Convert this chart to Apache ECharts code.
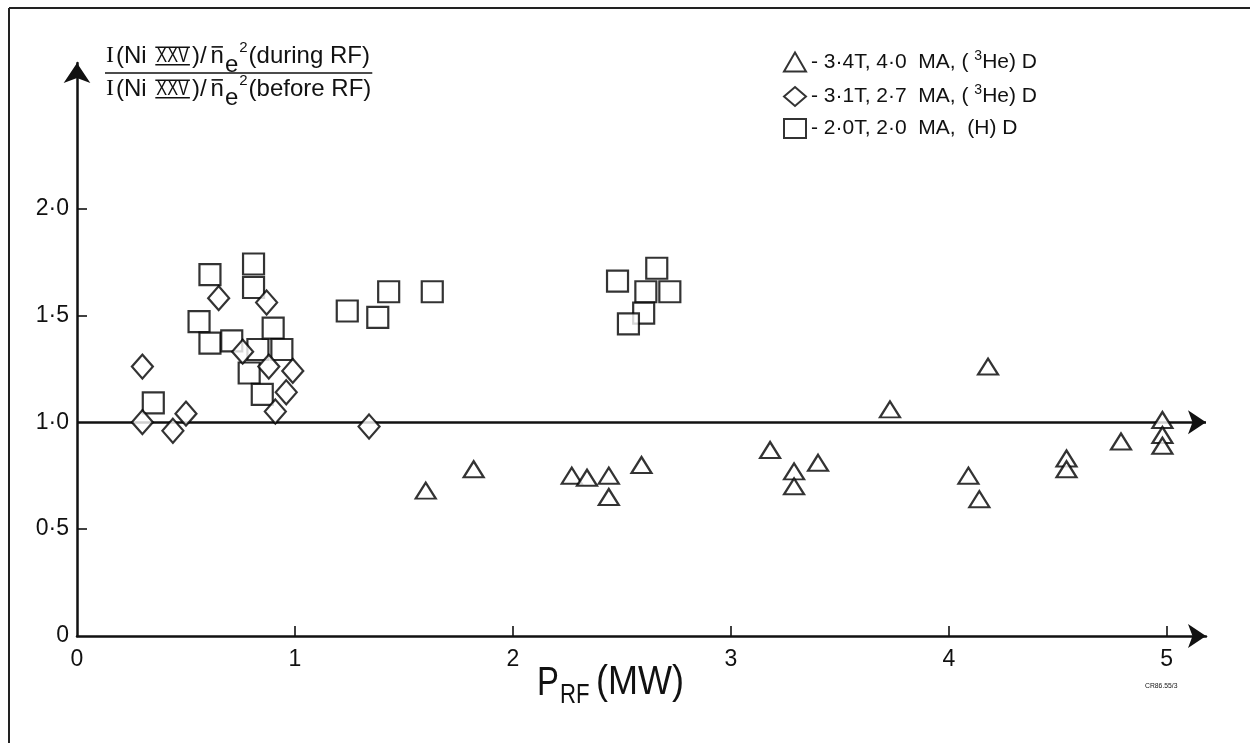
<!DOCTYPE html>
<html>
<head>
<meta charset="utf-8">
<script src="https://cdn.jsdelivr.net/npm/echarts@6/dist/echarts.min.js"></script>
<style>html,body{margin:0;padding:0;background:#fff}#c{width:1250px;height:743px}</style>
</head>
<body>
<div id="c"></div>
<script>
// ---- data ----
const triX = [1.60,1.82,2.27,2.34,2.44,2.44,2.59,3.18,3.29,3.29,3.40,3.73,4.18,4.09,4.14,4.54,4.54,4.79,4.98,4.98,4.98];
const triY = [0.68,0.78,0.75,0.74,0.75,0.65,0.80,0.87,0.77,0.70,0.81,1.06,1.26,0.75,0.64,0.83,0.78,0.91,1.01,0.94,0.89];
const diaX = [0.65,0.87,0.30,0.76,0.88,0.99,0.96,0.91,0.50,0.30,0.44,1.34];
const diaY = [1.58,1.56,1.26,1.33,1.26,1.24,1.14,1.05,1.04,1.00,0.96,0.98];
const sqX  = [0.61,0.81,0.81,0.56,0.61,0.71,0.83,0.90,0.94,0.79,0.85,0.35,1.24,1.38,1.43,1.63,2.48,2.66,2.61,2.72,2.60,2.53];
const sqY  = [1.69,1.74,1.63,1.47,1.37,1.38,1.34,1.44,1.34,1.23,1.13,1.09,1.52,1.49,1.61,1.61,1.66,1.72,1.61,1.61,1.51,1.46];
const seriesNames = ['- 3·4T, 4·0  MA, ( {sup|3}He) D', '- 3·1T, 2·7  MA, ( {sup|3}He) D', '- 2·0T, 2·0  MA,  (H) D'];
const xTickValues = [1,2,3,4,5];
const xLabelValues = [0,1,2,3,4,5];
const yTickValues = [0.5,1.5,2.0];
const yLabelValues = [0,0.5,1.0,1.5,2.0];
const refLevel = 1.0;
const xMax = 5.18, yMax = 2.68;

const zip = (a,b) => a.map((v,i)=>[v,b[i]]);
const fmt = v => v === 0 ? '0' : v.toFixed(1).replace('.', '·');
const ink = '#111';
const SANS = 'Liberation Sans';

// ---- y-axis title (fraction) laid out piece by piece ----
const ctx = document.createElement('canvas').getContext('2d');
function layoutLine(pieces, x0, cy) {
  const els = [];
  let x = x0;
  pieces.forEach(p => {
    const fam = p.fam || SANS;
    const sx = p.sx || 1;
    ctx.font = p.size + 'px "' + fam + '"';
    const w = ctx.measureText(p.t).width * sx;
    const y = cy + (p.dy || 0);
    els.push({type:'text', x:x, y:y, scaleX:sx, silent:true,
      style:{text:p.t, fontSize:p.size, fontFamily:fam, fill:ink, align:'left', verticalAlign:'middle'}});
    if (p.bars) {
      const h = p.size * 0.40;
      [y - h, y + h].forEach(yy => els.push({type:'line', silent:true,
        shape:{x1:x - 1, y1:yy, x2:x + w + 1, y2:yy}, style:{stroke:ink, lineWidth:1.6}}));
    }
    if (p.macron) {
      els.push({type:'line', silent:true,
        shape:{x1:x + 1, y1:y - p.size*0.38, x2:x + w - 1, y2:y - p.size*0.38}, style:{stroke:ink, lineWidth:1.6}});
    }
    x += w + (p.gap || 0);
  });
  return {els, end:x};
}
function fractionLine(tail, cy) {
  return layoutLine([
    {t:'I', size:24, fam:'Liberation Serif', gap:2},
    {t:'(Ni ', size:24, gap:3},
    {t:'XXV', size:22, sx:0.74, bars:true, gap:3},
    {t:')/', size:24, gap:4},
    {t:'n', size:24, macron:true, gap:1},
    {t:'e', size:24, dy:9, gap:1},
    {t:'2', size:15, dy:-8, gap:1},
    {t:tail, size:24}
  ], 106, cy);
}
const num = fractionLine('(during RF)', 56);
const den = fractionLine('(before RF)', 89);
const titleEls = num.els.concat(den.els);
titleEls.push({type:'line', silent:true,
  shape:{x1:105, y1:73, x2:Math.max(num.end, den.end) + 1, y2:73}, style:{stroke:ink, lineWidth:1.6}});

const chart = echarts.init(document.getElementById('c'), null, {renderer:'canvas'});
const symStyle = {color:'#fff', borderColor:'#000', borderWidth:2.2};
function gtext(t, x, y, size, sx, extra) {
  return Object.assign({type:'text', silent:true, x:x, y:y, scaleX:sx,
    style:{text:t, fontSize:size, fontFamily:SANS, fill:ink, align:'left', verticalAlign:'middle'}}, extra || {});
}
chart.setOption({
  backgroundColor:'#fff',
  animation:false,
  grid:{left:77, right:44, top:63, bottom:107, containLabel:false},
  legend:{
    orient:'vertical', left:778, top:44, itemWidth:22, itemHeight:19, itemGap:11,
    textStyle:{fontSize:21, fontFamily:SANS, color:ink,
      rich:{sup:{fontSize:14, fontFamily:SANS, color:ink, padding:[0,0,12,0]}}},
    data:[{name:seriesNames[0], icon:'triangle'},{name:seriesNames[1], icon:'diamond'},{name:seriesNames[2], icon:'rect'}]
  },
  xAxis:{
    type:'value', min:0, max:xMax,
    axisLine:{show:true, symbol:['none','arrow'], symbolSize:[18,18], lineStyle:{color:ink, width:2.5}},
    axisTick:{show:true, inside:true, length:10, customValues:xTickValues, lineStyle:{color:ink, width:1.6}},
    axisLabel:{customValues:xLabelValues, formatter:v=>String(v), fontSize:23, fontFamily:SANS, color:ink, margin:12},
    splitLine:{show:false}
  },
  yAxis:{
    type:'value', min:0, max:yMax,
    axisLine:{show:true, symbol:['none','arrow'], symbolSize:[20,20], lineStyle:{color:ink, width:2.5}},
    axisTick:{show:true, inside:true, length:10, customValues:yTickValues, lineStyle:{color:ink, width:1.6}},
    axisLabel:{customValues:yLabelValues, formatter:fmt, fontSize:23, fontFamily:SANS, color:ink, margin:8},
    splitLine:{show:false}
  },
  series:[
    {name:seriesNames[0], type:'scatter', symbol:'triangle', symbolSize:[20,16], itemStyle:symStyle, data:zip(triX,triY), z:3,
      markLine:{silent:true, symbol:['none','arrow'], symbolSize:[18,18], label:{show:false},
        lineStyle:{color:ink, width:2.5, type:'solid'}, emphasis:{disabled:true},
        data:[[{coord:[0,refLevel]},{coord:[xMax,refLevel]}]], z:2}},
    {name:seriesNames[1], type:'scatter', symbol:'diamond', symbolSize:[21,24], itemStyle:symStyle, data:zip(diaX,diaY), z:4},
    {name:seriesNames[2], type:'scatter', symbol:'rect', symbolSize:[21,21], itemStyle:symStyle, data:zip(sqX,sqY), z:3}
  ],
  graphic:[
    {type:'line', silent:true, shape:{x1:9, y1:8, x2:1250, y2:8}, style:{stroke:'#222', lineWidth:2}},
    {type:'line', silent:true, shape:{x1:9, y1:8, x2:9, y2:743}, style:{stroke:'#222', lineWidth:2}},
    gtext('P', 537, 684, 40, 0.82),
    gtext('RF', 560, 696, 27, 0.82),
    gtext('(MW)', 596, 683, 40, 0.9),
    gtext('CR86.55/3', 1145, 686, 8, 0.85)
  ].concat(titleEls)
});
</script>
</body>
</html>
